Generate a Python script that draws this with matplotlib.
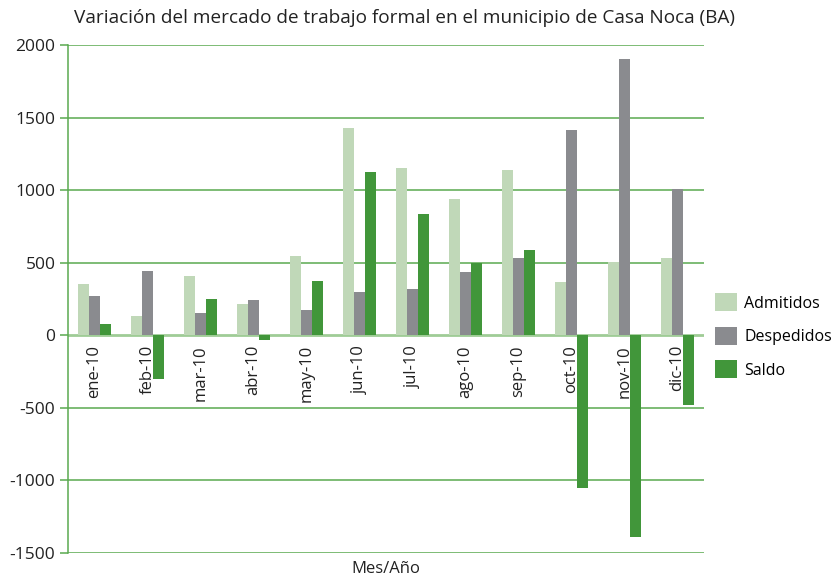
import matplotlib.pyplot as plt
import numpy as np

plt.rcParams['font.family'] = ['Open Sans', 'DejaVu Sans']
plt.rcParams['axes.unicode_minus'] = False

meses = ["ene-10", "feb-10", "mar-10", "abr-10", "may-10", "jun-10",
         "jul-10", "ago-10", "sep-10", "oct-10", "nov-10", "dic-10"]
admitidos = [350, 135, 410, 215, 545, 1430, 1155, 940, 1140, 370, 505, 535]
despedidos = [270, 440, 155, 245, 175, 300, 320, 435, 535, 1415, 1905, 1010]
saldo = [75, -300, 250, -30, 375, 1125, 835, 500, 590, -1050, -1390, -480]

c_adm = "#c0d8b8"
c_desp = "#8a8b8f"
c_saldo = "#41963a"
c_grid = "#5aaa4f"

fig = plt.figure(figsize=(8.37, 5.8), dpi=100)
ax = fig.add_axes([68 / 837, 27 / 580, 636 / 837, 508 / 580])

x = np.arange(len(meses))
w = 0.207

# grid lines first, bars on top
for yv in range(-1500, 2001, 500):
    if yv == 0:
        continue
    ax.axhline(yv, color=c_grid, lw=1.1, zorder=0)
ax.axhline(0, color="#9fcc96", lw=2, zorder=0.5)

b1 = ax.bar(x - w, admitidos, w, color=c_adm, zorder=2, label="Admitidos")
b2 = ax.bar(x, despedidos, w, color=c_desp, zorder=2, label="Despedidos")
b3 = ax.bar(x + w, saldo, w, color=c_saldo, zorder=2, label="Saldo")

ax.set_xlim(-0.5, 11.5)
ax.set_ylim(-1500, 2000)
ax.set_yticks(range(-1500, 2001, 500))
ax.tick_params(axis="y", colors=c_grid, length=6, width=1.1, labelsize=12.5,
               labelcolor="#222222", pad=3)
ax.set_xticks([])

for s in ["top", "right", "bottom"]:
    ax.spines[s].set_visible(False)
ax.spines["left"].set_color(c_grid)
ax.spines["left"].set_linewidth(1.1)

# month labels hanging under the zero line
for i, m in enumerate(meses):
    ax.annotate(m, (i, 0), xytext=(0, -7), textcoords="offset points",
                rotation=90, ha="center", va="top", fontsize=12,
                color="#222222")

fig.text(405 / 837, 1 - 18 / 580,
         "Variación del mercado de trabajo formal en el municipio de Casa Noca (BA)",
         ha="center", va="center", fontsize=13.7, color="#222222")
fig.text(386 / 837, 11 / 580, "Mes/Año", ha="center", va="center",
         fontsize=12, color="#222222")

fig.legend(handles=[b1, b2, b3], loc="center left",
           bbox_to_anchor=(701 / 837, 1 - 336 / 580), frameon=False,
           fontsize=11.5, handlelength=1.35, handleheight=1.35,
           labelspacing=0.95, handletextpad=0.45)

fig.savefig("out.png", dpi=100)
